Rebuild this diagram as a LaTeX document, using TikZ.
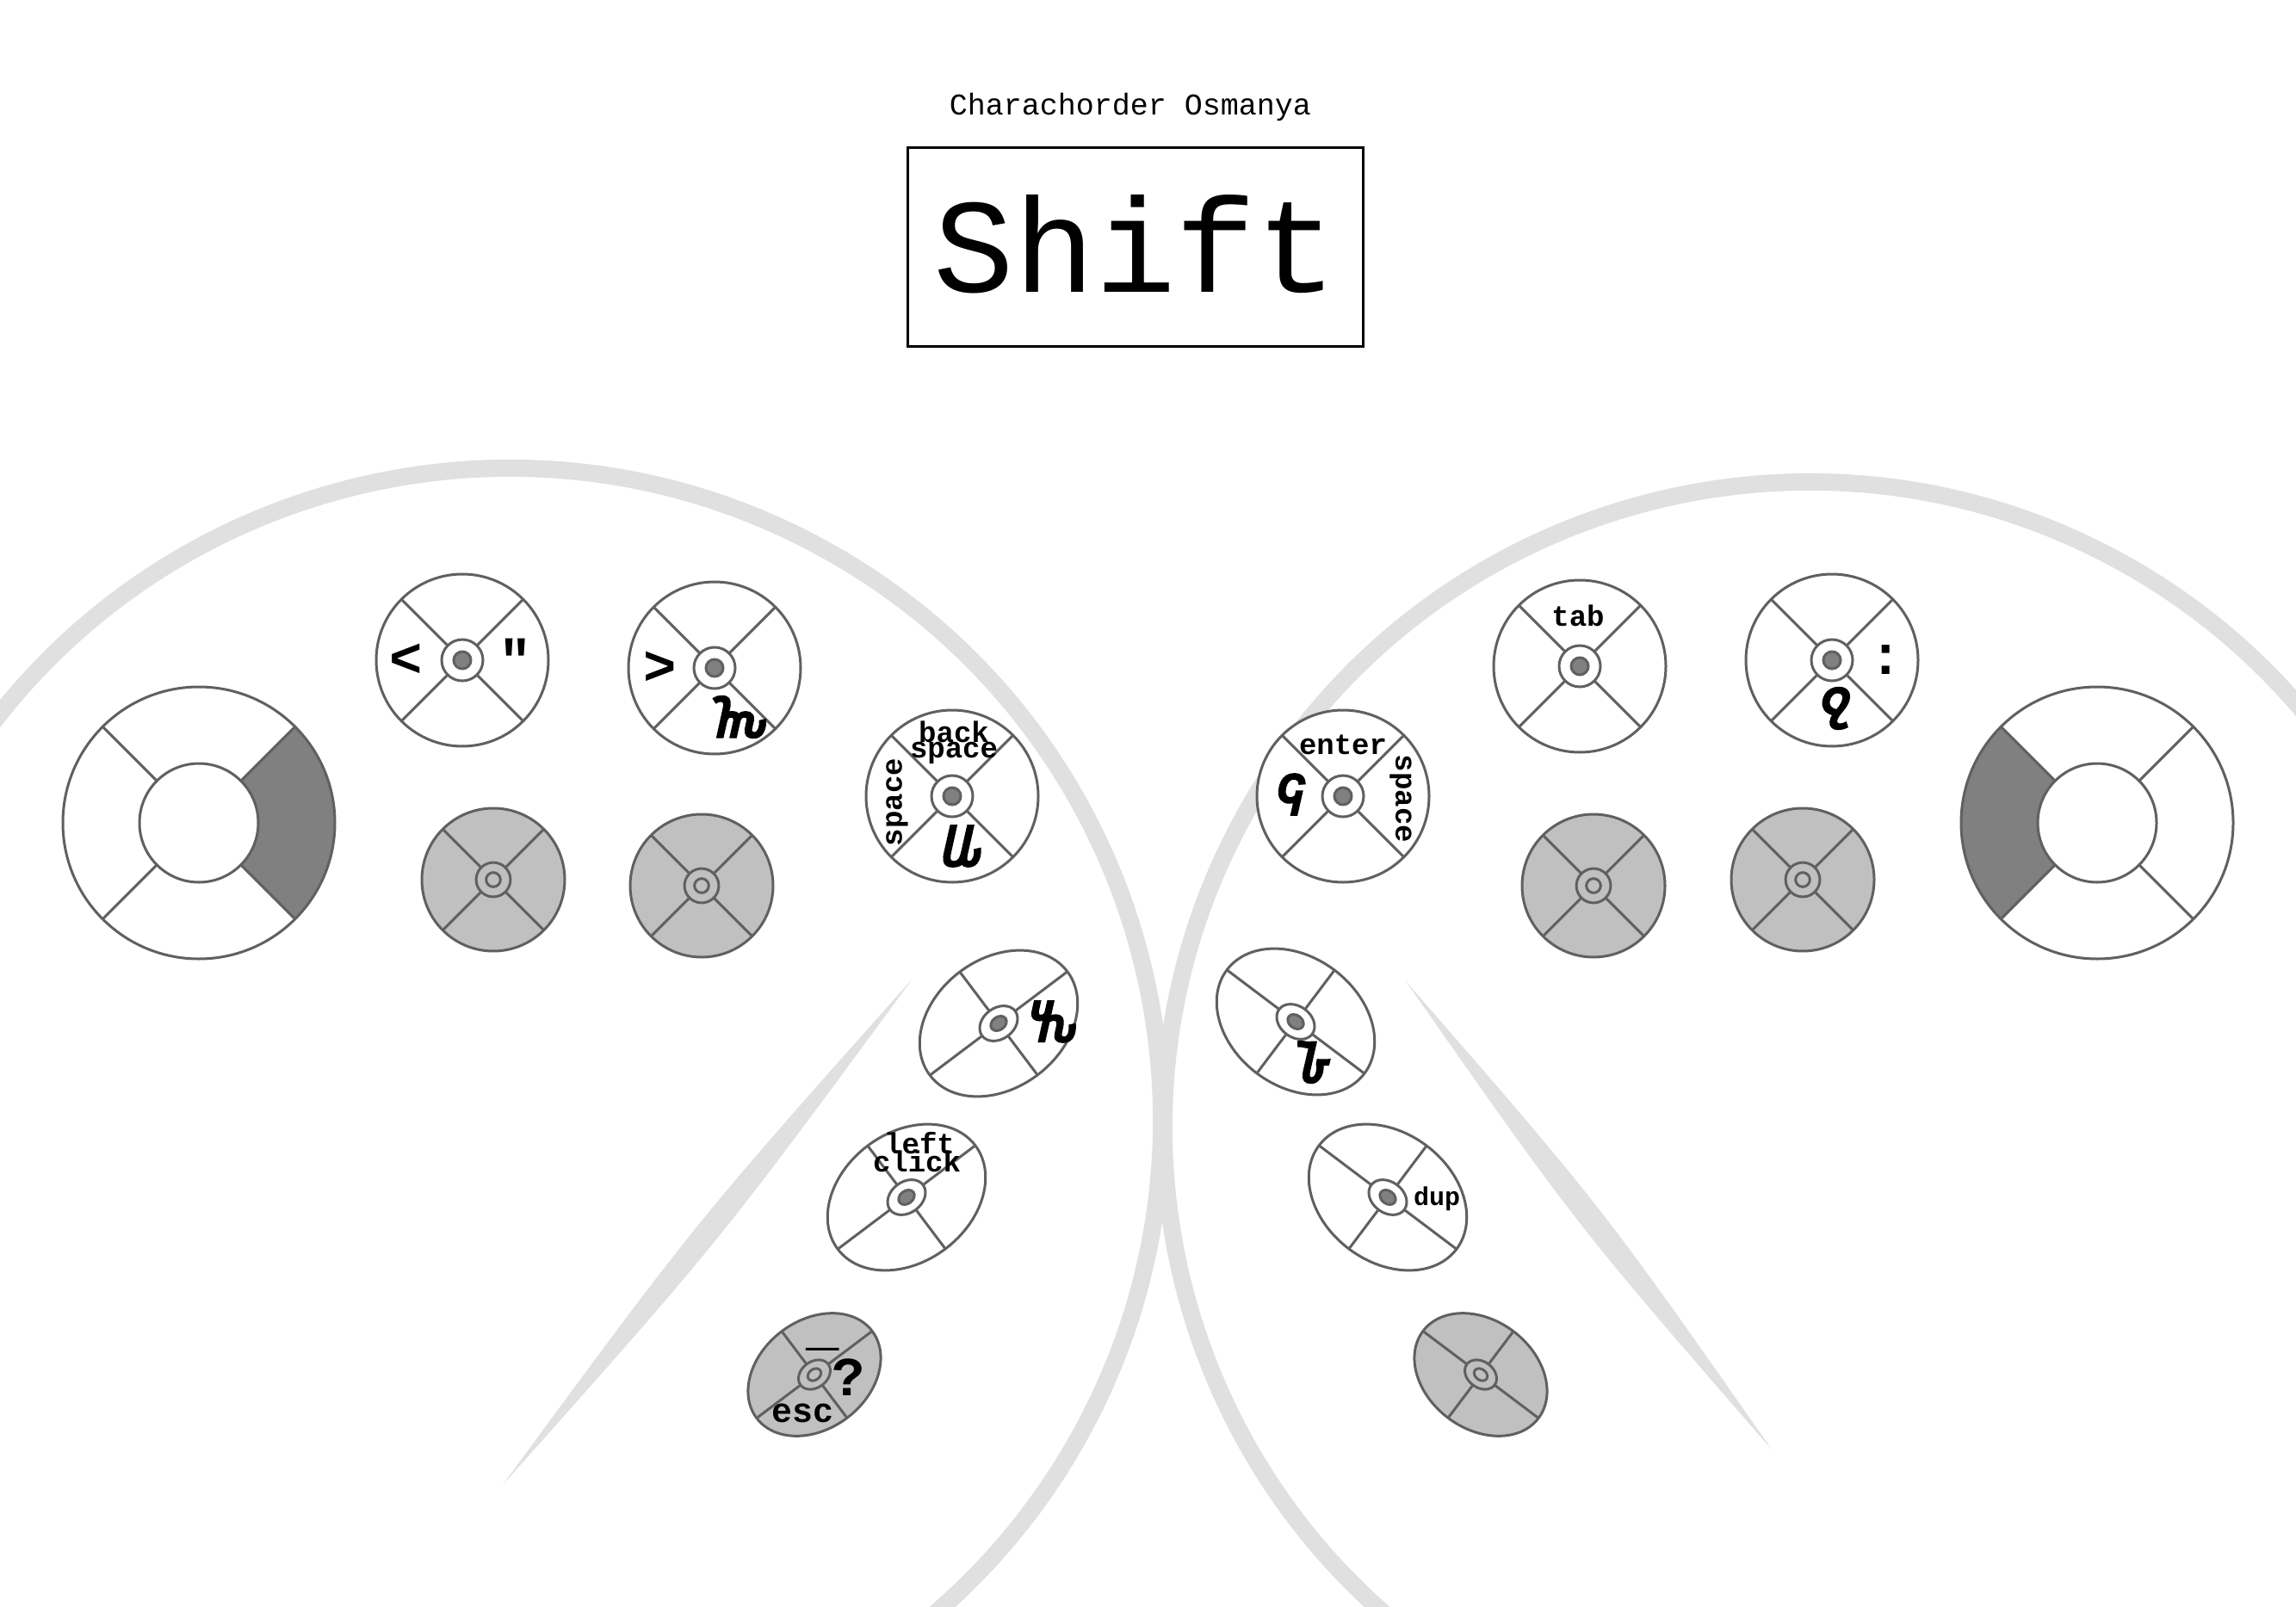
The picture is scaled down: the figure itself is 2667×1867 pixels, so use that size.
\documentclass[tikz,border=0pt]{standalone}
\usepackage{fontspec}
\setmonofont{Liberation Mono}
\newfontfamily\osmfont{Noto Sans Osmanya}[FakeBold=4, FakeSlant=0.12]
\usetikzlibrary{calc}

\definecolor{keyline}{HTML}{606060}
\definecolor{keygray}{HTML}{C0C0C0}
\definecolor{dotgray}{HTML}{808080}
\definecolor{handgray}{HTML}{E0E0E0}

\tikzset{
  keyedge/.style={draw=keyline, line width=3pt},
  handline/.style={draw=handgray, line width=20pt},
  sym/.style={font=\ttfamily\bfseries\fontsize{64}{64}\selectfont, inner sep=0pt},
  lbl/.style={font=\ttfamily\bfseries\fontsize{34}{34}\selectfont, inner sep=0pt},
  osm/.style={font=\osmfont\fontsize{65}{65}\selectfont, inner sep=0pt},
  pics/swkey/.style 2 args={code={
    \draw[keyedge, fill=#1] (0,0) circle[radius=100];
    \foreach \a in {0,90,180,270} \draw[keyedge] (\a:24) -- (\a:100);
    \draw[keyedge, fill=#1] (0,0) circle[radius=24];
    \draw[keyedge, fill=#2] (0,0) circle[radius=10];
  }},
}

\newcommand\thumbring[2]{%
  \fill[dotgray] ($(#1)+(#2:158)$) arc[start angle=#2, end angle=#2+90, radius=158]
    -- ($(#1)+(#2+90:69)$) arc[start angle=#2+90, end angle=#2, radius=69] -- cycle;
  \draw[keyedge] (#1) circle[radius=158];
  \draw[keyedge] (#1) circle[radius=69];
  \foreach \a in {45,135,225,315} \draw[keyedge] ($(#1)+(\a:69)$) -- ($(#1)+(\a:158)$);
}

\begin{document}
\begin{tikzpicture}[x=1pt, y=-1pt]
  \useasboundingbox (0,0) rectangle (2667,1867);
  \fill[white] (0,0) rectangle (2667,1867);
  \clip (0,0) rectangle (2667,1867);

  % title
  \node[font=\ttfamily\fontsize{35}{35}\selectfont] (title) at (1313,124) {Charachorder Osmanya};
  \node[draw, line width=3pt, minimum width=529pt, minimum height=231pt] (layer) at (1319,287.5) {};
  \node[font=\ttfamily\fontsize{156}{156}\selectfont, inner sep=0pt] (layername) at (1319,284) {Shift};

  % hands
  \coordinate (lhand) at (592,1301);
  \coordinate (rhand) at (2102,1310);
  \draw[handline] (lhand) ++(-150:757) arc[start angle=-150, end angle=60, radius=757];
  \draw[handline] (rhand) ++(120:750) arc[start angle=120, end angle=330, radius=750];
  \coordinate (llt) at (1060,1137); \coordinate (llb) at (584,1725);
  \coordinate (rlt) at (1633,1140); \coordinate (rlb) at (2058,1684);
  \fill[handgray] (llt) .. controls (836,1442) .. (llb) .. controls (808,1420) .. (llt);
  \fill[handgray] (rlt) .. controls (1860,1401) .. (rlb) .. controls (1831,1423) .. (rlt);

  % thumb rings
  \coordinate (lthumb) at (231,956);
  \coordinate (rthumb) at (2436,956);
  \thumbring{lthumb}{-45}
  \thumbring{rthumb}{135}

  % left hand keys
  \coordinate (lk1) at (537,767);
  \coordinate (lk2) at (830,776);
  \coordinate (lk3) at (1106,925);
  \coordinate (lg1) at (573,1022);
  \coordinate (lg2) at (815,1029);
  \coordinate (le1) at (1160,1189);
  \coordinate (le2) at (1053,1391);
  \coordinate (le3) at (946,1597);
  \pic[rotate=45] at (lk1) {swkey={white}{dotgray}};
  \pic[rotate=45] at (lk2) {swkey={white}{dotgray}};
  \pic[rotate=45] at (lk3) {swkey={white}{dotgray}};
  \pic[scale=0.83, rotate=45] at (lg1) {swkey={keygray}{keygray}};
  \pic[scale=0.83, rotate=45] at (lg2) {swkey={keygray}{keygray}};
  \pic[rotate=37, yscale=0.75] at (le1) {swkey={white}{dotgray}};
  \pic[rotate=37, yscale=0.75] at (le2) {swkey={white}{dotgray}};
  \pic[rotate=37, yscale=0.75, scale=0.84] at (le3) {swkey={keygray}{keygray}};

  % right hand keys
  \coordinate (rk1) at (1835,774);
  \coordinate (rk2) at (2128,767);
  \coordinate (rk3) at (1560,925);
  \coordinate (rg1) at (1851,1029);
  \coordinate (rg2) at (2094,1022);
  \coordinate (re1) at (1505,1187);
  \coordinate (re2) at (1612,1391);
  \coordinate (re3) at (1720,1597);
  \pic[rotate=45] at (rk1) {swkey={white}{dotgray}};
  \pic[rotate=45] at (rk2) {swkey={white}{dotgray}};
  \pic[rotate=45] at (rk3) {swkey={white}{dotgray}};
  \pic[scale=0.83, rotate=45] at (rg1) {swkey={keygray}{keygray}};
  \pic[scale=0.83, rotate=45] at (rg2) {swkey={keygray}{keygray}};
  \pic[rotate=-37, yscale=0.75] at (re1) {swkey={white}{dotgray}};
  \pic[rotate=-37, yscale=0.75] at (re2) {swkey={white}{dotgray}};
  \pic[rotate=-37, yscale=0.75, scale=0.84] at (re3) {swkey={keygray}{keygray}};

  % left labels
  \node[sym] (lk1w) at ($(lk1)+(-65,0)$) {<};
  \node[sym] (lk1e) at ($(lk1)+(62,-2)$) {"};
  \node[sym] (lk2w) at ($(lk2)+(-63,0)$) {>};
  \node[osm] (lk2s) at ($(lk2)+(27,57)$) {𐒝};
  \node[lbl] (lk3n) at ($(lk3)+(2,-75)$) {back};
  \node[lbl] (lk3m) at ($(lk3)+(2,-50)$) {space};
  \node[lbl, rotate=90] (lk3w) at ($(lk3)+(-64,7)$) {space};
  \node[osm] (lk3s) at ($(lk3)+(10,58)$) {𐒜};
  \node[osm] (le1e) at ($(le1)+(61,-2)$) {𐒓};
  \node[lbl] (le2n) at ($(le2)+(15,-63)$) {left};
  \node[lbl] (le2m) at ($(le2)+(12,-42)$) {click};
  \node[sym] (le3n) at ($(le3)+(10,-31)$) {\_};
  \node[sym] (le3e) at ($(le3)+(40,3)$) {?};
  \node[lbl, font=\ttfamily\bfseries\fontsize{40}{40}\selectfont] (le3s) at ($(le3)+(-14,45)$) {esc};

  % right labels
  \node[lbl] (rk1n) at ($(rk1)+(-2,-59)$) {tab};
  \node[sym] (rk2e) at ($(rk2)+(63,0)$) {:};
  \node[osm] (rk2s) at ($(rk2)+(1,56)$) {𐒉};
  \node[lbl] (rk3n) at ($(rk3)+(0,-60)$) {enter};
  \node[lbl, rotate=-90] (rk3e) at ($(rk3)+(67,3)$) {space};
  \node[osm] (rk3w) at ($(rk3)+(-63,-2)$) {𐒛};
  \node[osm] (re1s) at ($(re1)+(17,47)$) {𐒊};
  \node[lbl, font=\ttfamily\bfseries\fontsize{30}{30}\selectfont] (re2e) at ($(re2)+(57,2)$) {dup};
\end{tikzpicture}
\end{document}
